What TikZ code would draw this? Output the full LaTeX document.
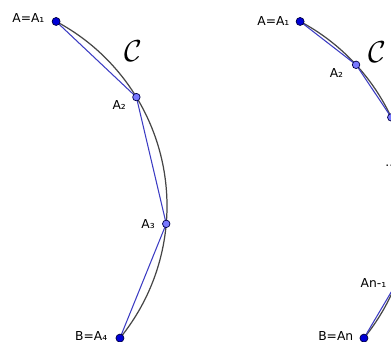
\documentclass[tikz,border=0pt]{standalone}
\usepackage{fontspec}
\setmainfont{DejaVu Sans}
\usetikzlibrary{positioning}
\definecolor{ptblue}{RGB}{0,0,215}
\definecolor{ptlight}{RGB}{120,120,255}
\definecolor{segblue}{RGB}{60,60,195}
\definecolor{arcgray}{RGB}{70,70,70}
\tikzset{
  curve/.style={draw=arcgray, line width=0.7pt},
  chord/.style={draw=segblue, line width=0.6pt},
  endpt/.style={circle, draw=black!75!blue, fill=ptblue, line width=0.4pt, inner sep=0pt, minimum size=0.16cm},
  midpt/.style={circle, draw=black!70!blue, fill=ptlight, line width=0.4pt, inner sep=0pt, minimum size=0.15cm},
  lbl/.style={inner sep=0pt, font=\fontsize{7}{8}\selectfont},
  calname/.style={inner sep=0pt, font=\fontsize{19}{19}\selectfont}
}
\newcommand{\rad}{4.18}

\begin{document}
\begin{tikzpicture}
  \useasboundingbox (0,0) rectangle (7.82,6.84);
  \clip (0,0) rectangle (7.82,6.84);
  % ------------------------------------------------------------------ left: n = 4
  \begin{scope}[shift={(-0.84,2.72)}]
    \coordinate (a1) at (62:\rad);
    \coordinate (a2) at (31.4:\rad);
    \coordinate (a3) at (-4.9:\rad);
    \coordinate (a4) at (-39.2:\rad);
    \draw[curve] (a1) arc[start angle=62, end angle=-39.2, radius=\rad];
    \draw[chord] (a1) -- (a2) -- (a3) -- (a4);
    \node[endpt] (p1) at (a1) {};
    \node[midpt] (p2) at (a2) {};
    \node[midpt] (p3) at (a3) {};
    \node[endpt] (p4) at (a4) {};
    \node[lbl, left=0.14cm of p1, yshift=0.07cm] (l1) {A=A₁};
    \node[lbl, left=0.12cm of p2, yshift=-0.16cm] (l2) {A₂};
    \node[lbl, left=0.14cm of p3] (l3) {A₃};
    \node[lbl, left=0.16cm of p4, yshift=0.05cm] (l4) {B=A₄};
    \node[calname] (cl) at (3.51,3.10) {$\mathcal{C}$};
  \end{scope}
  % ------------------------------------------------------------------ right: n points
  \begin{scope}[shift={(4.04,2.72)}]
    \coordinate (b1) at (62:\rad);
    \coordinate (b2) at (42.5:\rad);
    \coordinate (b3) at (25.1:\rad);
    \coordinate (bm) at (-22:\rad);
    \coordinate (bn) at (-39.2:\rad);
    \draw[curve] (b1) arc[start angle=62, end angle=-39.2, radius=\rad];
    \draw[chord] (b1) -- (b2) -- (b3);
    \draw[chord] (bm) -- (bn);
    \node[endpt] (q1) at (b1) {};
    \node[midpt] (q2) at (b2) {};
    \node[midpt] (q3) at (b3) {};
    \node[midpt] (qm) at (bm) {};
    \node[endpt] (qn) at (bn) {};
    \node[lbl, left=0.12cm of q1] (m1) {A=A₁};
    \node[lbl, left=0.17cm of q2, yshift=-0.17cm] (m2) {A₂};
    \node[lbl, left=0.1cm of qm, yshift=0.02cm] (mm) {An-₁};
    \node[lbl, left=0.12cm of qn, yshift=0.05cm] (mn) {B=An};
    \node[calname] (cr) at (3.51,3.08) {$\mathcal{C}$};
  \end{scope}
  \node[lbl, anchor=west] (dots) at (7.70,3.52) {...};
\end{tikzpicture}
\end{document}
